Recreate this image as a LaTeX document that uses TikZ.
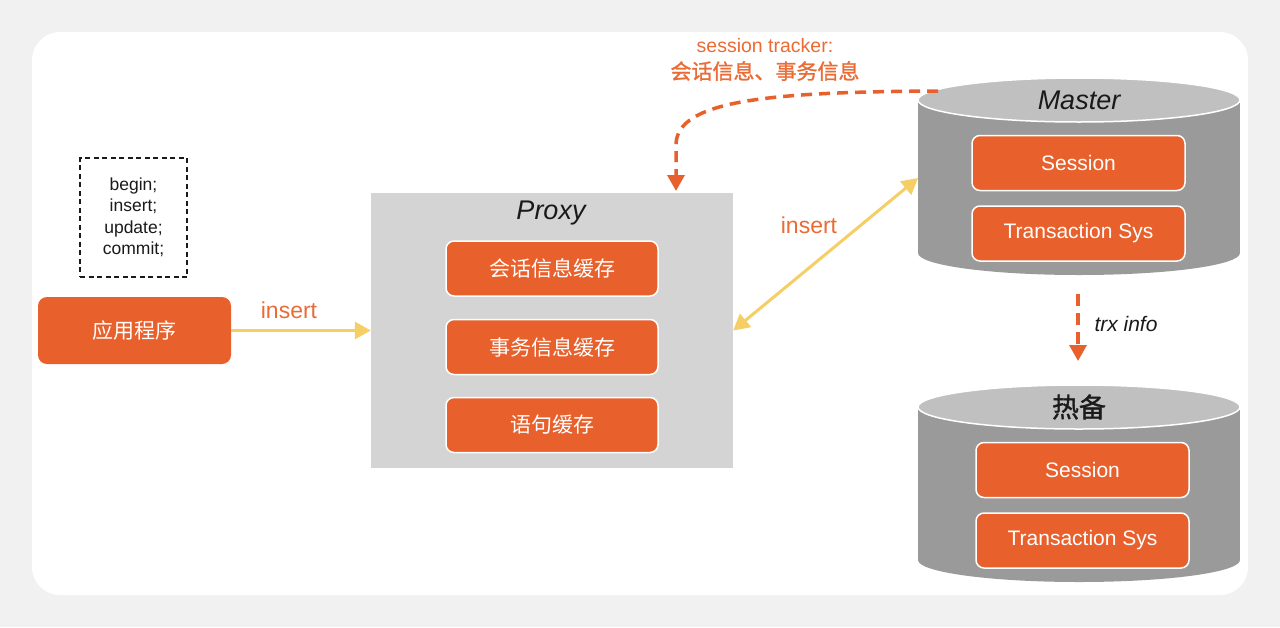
\documentclass[tikz,border=0pt]{standalone}
\usepackage{fontspec}
\setmainfont{Liberation Sans}
\newfontfamily\cjk{Noto Sans CJK SC}
\newfontfamily\cjkb[FakeBold=1.2]{Noto Sans CJK SC}
\usetikzlibrary{arrows.meta}
\definecolor{org}{HTML}{E8602C}
\definecolor{orgtxt}{HTML}{EA6B34}
\definecolor{ylw}{HTML}{F5CF66}
\definecolor{proxygray}{HTML}{D4D4D4}
\definecolor{cylbody}{HTML}{9A9A9A}
\definecolor{cyltop}{HTML}{C0C0C0}
\definecolor{pagebg}{HTML}{F1F1F1}
\definecolor{txt}{HTML}{1A1A1A}
\tikzset{
  obox/.style={fill=org, draw=white, line width=1.5pt, rounded corners=8pt, text=white, inner sep=0pt},
  appbox/.style={fill=org, rounded corners=9pt, text=white, inner sep=0pt},
  yarrow/.style={draw=ylw, line width=3pt, arrows={-Triangle[width=17pt,length=16pt]}},
  ydouble/.style={draw=ylw, line width=3pt, arrows={Triangle[width=17pt,length=16pt]-Triangle[width=17pt,length=16pt]}},
  odash/.style={draw=org, line width=3.5pt, dash pattern=on 11pt off 7pt, arrows={-Triangle[width=17pt,length=16pt]}},
  lbl/.style={text=orgtxt, inner sep=0pt},
  fs/.style={font=\fontsize{#1}{#1}\selectfont}
}
\begin{document}
\begin{tikzpicture}[x=1pt,y=-1pt]
\useasboundingbox (0,0) rectangle (1280,627);
\fill[pagebg] (0,0) rectangle (1280,627);
\fill[white, rounded corners=28pt] (32,32) rectangle (1248,595);

% SQL box
\node[draw=txt, line width=1.6pt, dash pattern=on 5pt off 3.5pt, minimum width=107pt, minimum height=119pt, align=center, inner sep=0pt,
      font=\fontsize{17.5}{21.5}\selectfont, text=txt] (sql) at (133.5,217.5) {begin;\\insert;\\update;\\commit;};

% application
\node[appbox, minimum width=193pt, minimum height=67pt, fs=21] (app) at (134.5,330.5) {\cjk 应用程序};

% proxy
\node[fill=proxygray, minimum width=362pt, minimum height=275pt, inner sep=0pt] (proxy) at (552,330.5) {};
\node[fs=27, text=txt, inner sep=0pt] (proxyt) at (551,213) {\itshape Proxy};
\node[obox, minimum width=212pt, minimum height=55pt, fs=21] (p1) at (552,268.5) {\cjk 会话信息缓存};
\node[obox, minimum width=212pt, minimum height=55pt, fs=21] (p2) at (552,347) {\cjk 事务信息缓存};
\node[obox, minimum width=212pt, minimum height=55pt, fs=21] (p3) at (552,425) {\cjk 语句缓存};

% master cylinder
\fill[cylbody] (918,100) rectangle (1240,253);
\fill[cylbody] (1079,253) ellipse [x radius=161pt, y radius=22pt];
\filldraw[fill=cyltop, draw=white, line width=1.5pt] (1079,100) ellipse [x radius=161pt, y radius=22pt];
\node[fs=27, text=txt, inner sep=0pt] (master) at (1079,100) {\itshape Master};
\node[obox, minimum width=213pt, minimum height=55pt, fs=21] (m1) at (1078.5,163) {Session};
\node[obox, minimum width=213pt, minimum height=55pt, fs=21] (m2) at (1078.5,233.5) {Transaction Sys};

% hot standby cylinder
\fill[cylbody] (918,407) rectangle (1240,560);
\fill[cylbody] (1079,560) ellipse [x radius=161pt, y radius=22pt];
\filldraw[fill=cyltop, draw=white, line width=1.5pt] (1079,407) ellipse [x radius=161pt, y radius=22pt];
\node[fs=27, text=txt, inner sep=0pt] (hot) at (1079,407) {\cjkb 热备};
\node[obox, minimum width=213pt, minimum height=55pt, fs=21] (h1) at (1082.5,470) {Session};
\node[obox, minimum width=213pt, minimum height=55pt, fs=21] (h2) at (1082.5,540.5) {Transaction Sys};

% coordinates
\coordinate (mL) at (918,178);
\coordinate (mTL) at (938,91);
\coordinate (pT) at (676,191);
\coordinate (mB) at (1078,294);
\coordinate (hT) at (1078,361);

% connectors
\draw[yarrow] (app.east) -- (proxy.west);
\node[lbl, fs=23] (ins1) at (289,310) {insert};
\draw[ydouble] (proxy.east) -- (mL);
\node[lbl, fs=23] (ins2) at (809,225) {insert};
\draw[odash] (mTL) .. controls (770,92) and (676,100) .. (676,145) -- (pT);
\node[lbl, fs=19.5] (st1) at (765,46) {session tracker:};
\node[lbl, fs=21] (st2) at (765,71) {\cjkb 会话信息、事务信息};
\draw[odash, dash pattern=on 12pt off 7pt] (mB) -- (hT);
\node[fs=21, text=txt, inner sep=0pt] (trx) at (1126,324) {\itshape trx info};
\end{tikzpicture}
\end{document}
